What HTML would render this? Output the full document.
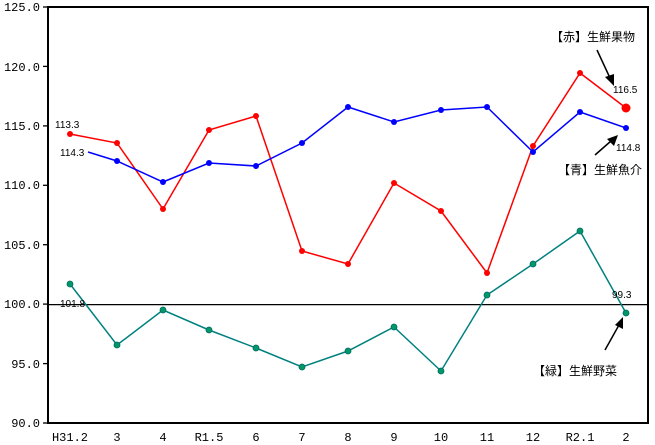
<!DOCTYPE html>
<html><head><meta charset="utf-8"><style>body{margin:0;background:#fff}svg{display:block}</style></head><body>
<svg width="655" height="445" xmlns="http://www.w3.org/2000/svg" font-family="'Liberation Mono','Noto Sans CJK JP',monospace">
<rect x="48" y="7" width="600" height="416" fill="none" stroke="#000" stroke-width="2"/>
<line x1="48" y1="304.6" x2="648" y2="304.6" stroke="#000" stroke-width="1.3"/>
<g stroke="#000" stroke-width="1.3">
<line x1="43" y1="7" x2="48" y2="7"/><line x1="43" y1="66.4" x2="48" y2="66.4"/><line x1="43" y1="125.9" x2="48" y2="125.9"/><line x1="43" y1="185.3" x2="48" y2="185.3"/><line x1="43" y1="244.7" x2="48" y2="244.7"/><line x1="43" y1="304.1" x2="48" y2="304.1"/><line x1="43" y1="363.6" x2="48" y2="363.6"/><line x1="43" y1="423" x2="48" y2="423"/>
</g>
<g font-size="12" fill="#000" text-anchor="end">
<text x="40" y="11">125.0</text><text x="40" y="71">120.0</text><text x="40" y="130">115.0</text><text x="40" y="189">110.0</text><text x="40" y="249">105.0</text><text x="40" y="308">100.0</text><text x="40" y="368">95.0</text><text x="40" y="427">90.0</text>
</g>
<g font-size="12" fill="#000" text-anchor="middle">
<text x="70" y="441">H31.2</text><text x="117" y="441">3</text><text x="163" y="441">4</text><text x="209" y="441">R1.5</text><text x="256" y="441">6</text><text x="302" y="441">7</text><text x="348" y="441">8</text><text x="394" y="441">9</text><text x="441" y="441">10</text><text x="487" y="441">11</text><text x="533" y="441">12</text><text x="580" y="441">R2.1</text><text x="626" y="441">2</text>
</g>
<polyline fill="none" stroke="#ff0000" stroke-width="1.5" points="70,134 117,143 163,209 209,130 256,116 302,251 348,264 394,183 441,211 487,273 533,146 580,73 626,108"/>
<g fill="#ff0000"><circle cx="70" cy="134" r="3"/><circle cx="117" cy="143" r="3"/><circle cx="163" cy="209" r="3"/><circle cx="209" cy="130" r="3"/><circle cx="256" cy="116" r="3"/><circle cx="302" cy="251" r="3"/><circle cx="348" cy="264" r="3"/><circle cx="394" cy="183" r="3"/><circle cx="441" cy="211" r="3"/><circle cx="487" cy="273" r="3"/><circle cx="533" cy="146" r="3"/><circle cx="580" cy="73" r="3"/><circle cx="626" cy="108" r="4.5"/></g>
<polyline fill="none" stroke="#0000ff" stroke-width="1.5" points="88,152 117,161 163,182 209,163 256,166 302,143 348,107 394,122 441,110 487,107 533,152 580,112 626,128"/>
<g fill="#0000ff"><circle cx="117" cy="161" r="3"/><circle cx="163" cy="182" r="3"/><circle cx="209" cy="163" r="3"/><circle cx="256" cy="166" r="3"/><circle cx="302" cy="143" r="3"/><circle cx="348" cy="107" r="3"/><circle cx="394" cy="122" r="3"/><circle cx="441" cy="110" r="3"/><circle cx="487" cy="107" r="3"/><circle cx="533" cy="152" r="3"/><circle cx="580" cy="112" r="3"/><circle cx="626" cy="128" r="3"/></g>
<polyline fill="none" stroke="#008080" stroke-width="1.5" points="70,284 117,345 163,310 209,330 256,348 302,367 348,351 394,327 441,371 487,295 533,264 580,231 626,313"/>
<g fill="#009966" stroke="#006666" stroke-width="0.8"><circle cx="70" cy="284" r="3"/><circle cx="117" cy="345" r="3"/><circle cx="163" cy="310" r="3"/><circle cx="209" cy="330" r="3"/><circle cx="256" cy="348" r="3"/><circle cx="302" cy="367" r="3"/><circle cx="348" cy="351" r="3"/><circle cx="394" cy="327" r="3"/><circle cx="441" cy="371" r="3"/><circle cx="487" cy="295" r="3"/><circle cx="533" cy="264" r="3"/><circle cx="580" cy="231" r="3"/><circle cx="626" cy="313" r="3"/></g>
<g font-family="'Liberation Sans',sans-serif" font-size="10" fill="#000">
<text x="55" y="128">113.3</text><text x="60" y="156">114.3</text><text x="60" y="307">101.8</text><text x="613" y="93">116.5</text><text x="616" y="151">114.8</text><text x="612" y="298">99.3</text>
</g>
<g font-family="'Noto Sans CJK JP',sans-serif" font-size="12" fill="#000">
<text x="551" y="41">【赤】生鮮果物</text><text x="558" y="174">【青】生鮮魚介</text><text x="533" y="375">【緑】生鮮野菜</text>
</g>
<g stroke="#000" stroke-width="1.5" fill="#000">
<line x1="597" y1="50" x2="610" y2="78"/><polygon points="614,86 605,77 614,74" stroke="none"/>
<line x1="595" y1="155" x2="611" y2="141"/><polygon points="618,135 614,146 607,139" stroke="none"/>
<line x1="605" y1="350" x2="619" y2="325"/><polygon points="623,317 623,329 615,325" stroke="none"/>
</g>
</svg>
</body></html>
